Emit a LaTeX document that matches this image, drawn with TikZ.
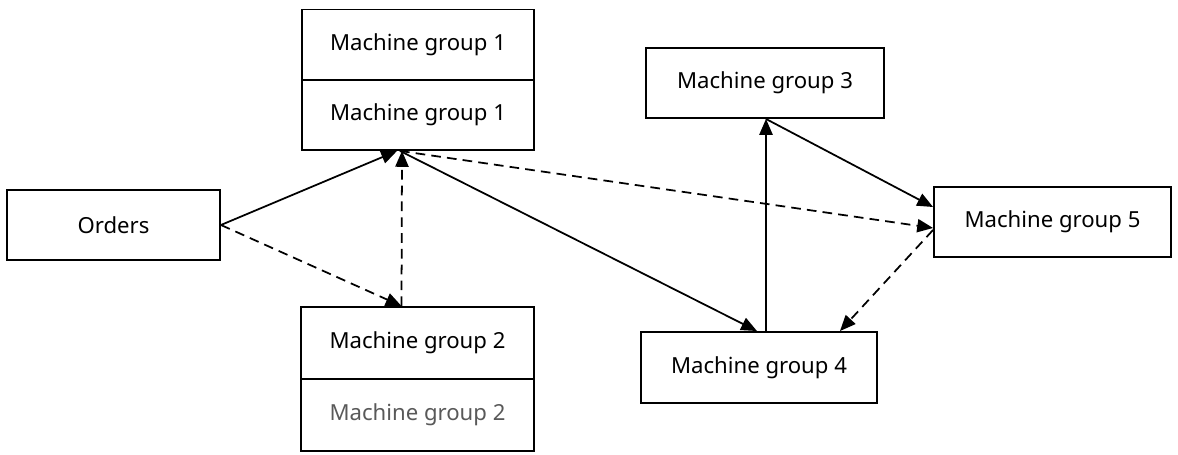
\documentclass[tikz,border=0pt]{standalone}
\usepackage{fontspec}
\setmainfont{Noto Sans}
\usetikzlibrary{arrows.meta, positioning}

\begin{document}
\begin{tikzpicture}[x=0.02cm, y=-0.02cm, >={Triangle[length=9pt,width=7.5pt]},
    box/.style={draw, line width=1.1pt, minimum width=4.72cm, minimum height=1.4cm, inner sep=0pt, font=\fontsize{12.6}{14}\selectfont},
    flow/.style={->, line width=1pt},
    dflow/.style={->, line width=1pt, dash pattern=on 5.5pt off 3.5pt}]
  \useasboundingbox (0,0) rectangle (1178,455);
  % boxes
  \node[box, minimum width=4.26cm] (orders) at (113.5,225) {Orders};
  \node[box, minimum width=4.64cm, minimum height=1.42cm] (mg1a) at (418,45) {Machine group 1};
  \node[box, minimum width=4.64cm] (mg1b) at (418,115) {Machine group 1};
  \node[box, minimum width=4.66cm, minimum height=1.44cm] (mg2a) at (417.5,343) {Machine group 2};
  \node[box, minimum width=4.66cm, minimum height=1.44cm, text=black!65] (mg2b) at (417.5,415) {Machine group 2};
  \node[box, minimum width=4.76cm] (mg3) at (765,83) {Machine group 3};
  \node[box, minimum height=1.42cm] (mg4) at (759,367.5) {Machine group 4};
  \node[box, minimum width=4.74cm] (mg5) at (1052.5,222) {Machine group 5};
  % connectors
  \draw[flow] (orders.east) -- ([xshift=-0.42cm]mg1b.south);
  \draw[dflow] (orders.east) -- ([xshift=-0.32cm]mg2a.north);
  \draw[dflow] ([xshift=-0.32cm]mg2a.north) -- ([xshift=-0.32cm]mg1b.south);
  \draw[flow] ([xshift=-0.36cm]mg1b.south) -- ([xshift=-0.04cm]mg4.north);
  \draw[dflow] ([xshift=-0.36cm]mg1b.south) -- ([yshift=-0.12cm]mg5.west);
  \draw[flow] ([xshift=0.14cm]mg4.north) -- ([xshift=0.02cm]mg3.south);
  \draw[flow] ([xshift=0.02cm]mg3.south) -- ([yshift=0.3cm]mg5.west);
  \draw[dflow] ([yshift=-0.16cm]mg5.west) -- ([xshift=1.62cm]mg4.north);
\end{tikzpicture}
\end{document}
